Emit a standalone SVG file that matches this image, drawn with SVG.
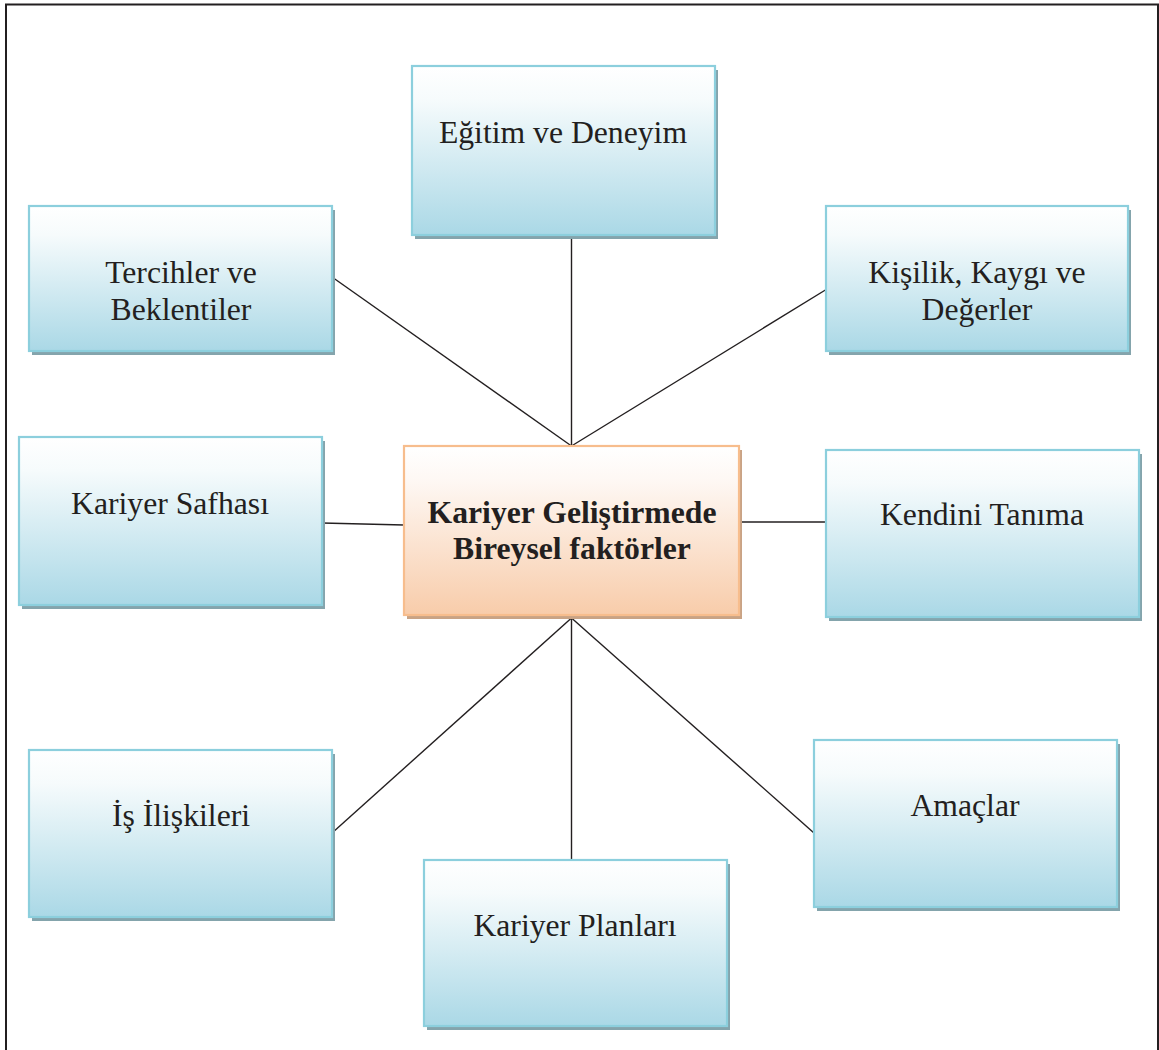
<svg xmlns="http://www.w3.org/2000/svg" width="1159" height="1050" viewBox="0 0 1159 1050">
<defs>
<linearGradient id="gb" x1="0" y1="0" x2="0" y2="1">
<stop offset="0" stop-color="#ffffff"/>
<stop offset="0.2" stop-color="#f6fbfc"/>
<stop offset="1" stop-color="#aad8e6"/>
</linearGradient>
<linearGradient id="go" x1="0" y1="0" x2="0" y2="1">
<stop offset="0" stop-color="#ffffff"/>
<stop offset="0.2" stop-color="#fef8f4"/>
<stop offset="1" stop-color="#f8ccaa"/>
</linearGradient>
</defs>
<style>
.box{fill:url(#gb);stroke:#8ccfdd;stroke-width:2.2}
.sh{fill:#84a4ac}
.cbox{fill:url(#go);stroke:#f7bd8d;stroke-width:2.2}
.csh{fill:#c9a385}
.t{font-family:"Liberation Serif","Times New Roman",serif;font-size:31.7px;fill:#231f20;text-anchor:middle}
.b{font-weight:bold}
.ln{stroke:#231f20;stroke-width:1.4;fill:none}
</style>
<rect x="6" y="4.5" width="1152" height="1060" fill="none" stroke="#231f20" stroke-width="2"/>
<g id="connectors">
<line class="ln" x1="571.5" y1="238" x2="571.5" y2="446"/>
<line class="ln" x1="332" y1="277" x2="571.5" y2="446"/>
<line class="ln" x1="827" y1="289" x2="571.5" y2="446"/>
<line class="ln" x1="322" y1="523" x2="404" y2="525"/>
<line class="ln" x1="739" y1="522" x2="826" y2="522"/>
<line class="ln" x1="332" y1="833" x2="571.5" y2="618"/>
<line class="ln" x1="814" y1="833" x2="571.5" y2="618"/>
<line class="ln" x1="571.5" y1="618" x2="571.5" y2="860"/>
</g>
<g id="egitim">
<rect class="sh" x="415" y="70" width="303" height="169"/>
<rect class="box" x="412" y="66" width="303" height="169"/>
<text class="t" x="563" y="143">Eğitim ve Deneyim</text>
</g>
<g id="tercihler">
<rect class="sh" x="32" y="210" width="303" height="145"/>
<rect class="box" x="29" y="206" width="303" height="145"/>
<text class="t" x="181" y="283">Tercihler ve</text>
<text class="t" x="181" y="320">Beklentiler</text>
</g>
<g id="kisilik">
<rect class="sh" x="829" y="210" width="302" height="145"/>
<rect class="box" x="826" y="206" width="302" height="145"/>
<text class="t" x="977" y="283">Kişilik, Kaygı ve</text>
<text class="t" x="977" y="320">Değerler</text>
</g>
<g id="safhasi">
<rect class="sh" x="22" y="441" width="303" height="168"/>
<rect class="box" x="19" y="437" width="303" height="168"/>
<text class="t" x="170" y="514">Kariyer Safhası</text>
</g>
<g id="merkez">
<rect class="csh" x="407" y="450" width="335" height="169"/>
<rect class="cbox" x="404" y="446" width="335" height="169"/>
<text class="t b" x="572" y="523">Kariyer Geliştirmede</text>
<text class="t b" x="572" y="559">Bireysel faktörler</text>
</g>
<g id="kendini">
<rect class="sh" x="829" y="454" width="313" height="167"/>
<rect class="box" x="826" y="450" width="313" height="167"/>
<text class="t" x="982" y="525">Kendini Tanıma</text>
</g>
<g id="is">
<rect class="sh" x="32" y="754" width="303" height="167"/>
<rect class="box" x="29" y="750" width="303" height="167"/>
<text class="t" x="181" y="826">İş İlişkileri</text>
</g>
<g id="amaclar">
<rect class="sh" x="817" y="744" width="303" height="167"/>
<rect class="box" x="814" y="740" width="303" height="167"/>
<text class="t" x="965" y="816">Amaçlar</text>
</g>
<g id="planlari">
<rect class="sh" x="427" y="864" width="303" height="166"/>
<rect class="box" x="424" y="860" width="303" height="166"/>
<text class="t" x="575" y="936">Kariyer Planları</text>
</g>
</svg>
